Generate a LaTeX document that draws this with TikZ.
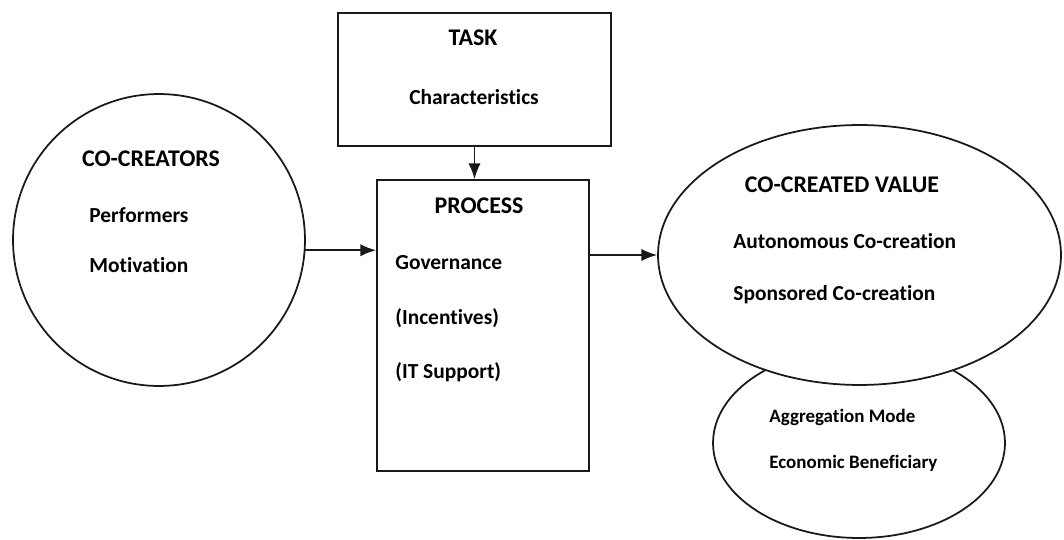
\documentclass[tikz,border=0pt]{standalone}
\usepackage{fontspec}
\setmainfont{Carlito}[Ligatures=NoCommon]
\usepackage{tikz}
\usetikzlibrary{shapes,arrows.meta}

\tikzset{
  px/.style={x=0.02cm,y=-0.02cm},
  heading/.style={font=\bfseries\fontsize{13.6}{15}\selectfont,inner sep=0pt},
  entry/.style={font=\bfseries\fontsize{12.2}{14}\selectfont,anchor=west,inner sep=0pt},
  smallentry/.style={entry,font=\bfseries\fontsize{10.8}{13}\selectfont},
  outline/.style={draw=black!90,line width=1pt,inner sep=0pt},
  flow/.style={-{Latex[length=9pt,width=7pt]},line width=1pt,draw=black!90}
}

\begin{document}
\begin{tikzpicture}[px]
  \useasboundingbox (0,0) rectangle (1064,540);

  % the shapes
  \node[outline,circle,minimum size=5.84cm] (creators) at (159,240) {};
  \node[outline,rectangle,minimum width=5.46cm,minimum height=2.66cm] (task) at (474.5,79.5) {};
  \node[outline,rectangle,minimum width=4.24cm,minimum height=5.82cm] (process) at (483,325.5) {};
  \node[outline,ellipse,minimum width=5.84cm,minimum height=3.8cm] (mode) at (859,443) {};
  \node[outline,ellipse,fill=white,minimum width=8.06cm,minimum height=5.2cm] (value) at (859.5,255) {};

  % co-creators
  \node[heading] (creatorstitle) at (151,159) {CO-CREATORS};
  \node[entry] (performers) at (89,215) {Performers};
  \node[entry] (motivation) at (89,265) {Motivation};

  % task
  \node[heading] (tasktitle) at (473,38) {TASK};
  \node[entry,anchor=center] (characteristics) at (474,97) {Characteristics};

  % process
  \node[heading] (processtitle) at (479,206) {PROCESS};
  \node[entry] (governance) at (395,263) {Governance};
  \node[entry] (incentives) at (395,318) {(Incentives)};
  \node[entry] (itsupport) at (395,372) {(IT Support)};

  % co-created value
  \node[heading] (valuetitle) at (842,185) {CO-CREATED VALUE};
  \node[entry] (autonomous) at (733,241) {Autonomous Co-creation};
  \node[entry] (sponsored) at (733,295) {Sponsored Co-creation};
  \node[smallentry] (aggregation) at (769,417) {Aggregation Mode};
  \node[smallentry] (beneficiary) at (769,463) {Economic Beneficiary};

  % arrows
  \draw[flow] (task.south) -- (task.south |- process.north);
  \draw[flow] (creators.-4) -- (creators.-4 -| process.west);
  \draw[flow] (process.east |- value.west) -- (value.west);
\end{tikzpicture}
\end{document}
